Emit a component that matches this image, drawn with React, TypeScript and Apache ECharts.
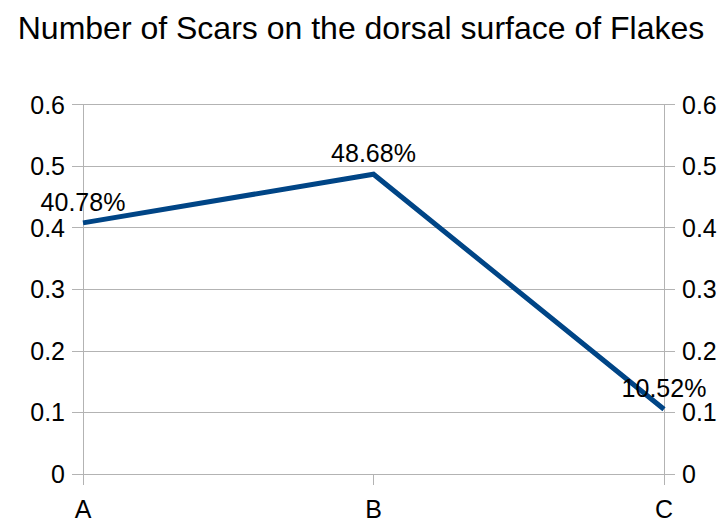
import React, { useEffect, useRef } from "react";
import * as echarts from "echarts";

const categories = ["A", "B", "C"];
const values = [0.4078, 0.4868, 0.1052];
const yTicks = [0, 0.1, 0.2, 0.3, 0.4, 0.5, 0.6];
const titleText = "Number of Scars on the dorsal surface of Flakes";

const FONT = "Liberation Sans, Arial, sans-serif";
const GRAY = "#b3b3b3";
const LABEL_SIZE = 25;

export default function App() {
  const ref = useRef<HTMLDivElement>(null);
  useEffect(() => {
    if (!ref.current) return;
    const chart = echarts.init(ref.current, null, { renderer: "svg" });
    const yAxisCommon = {
      type: "value",
      min: yTicks[0],
      max: yTicks[yTicks.length - 1],
      interval: 0.1,
      axisLine: { show: true, lineStyle: { color: GRAY, width: 1 } },
      axisTick: { show: true, length: 11, lineStyle: { color: GRAY } },
      splitLine: { show: true, lineStyle: { color: GRAY, width: 1 } },
      axisLabel: {
        color: "#000",
        fontSize: LABEL_SIZE,
        fontFamily: FONT,
        margin: 18,
        formatter: (v: number) => String(Math.round(v * 10) / 10),
      },
    };
    chart.setOption({
      animation: false,
      backgroundColor: "#fff",
      title: {
        text: titleText,
        left: "center",
        top: 7,
        textStyle: { fontSize: 32, fontWeight: "normal", color: "#000", fontFamily: FONT },
      },
      grid: { left: 83, right: 58, top: 104.5, bottom: 49, containLabel: false },
      xAxis: {
        type: "category",
        data: categories,
        boundaryGap: false,
        axisLine: { show: true, lineStyle: { color: GRAY } },
        axisTick: { show: true, length: 11, alignWithLabel: true, lineStyle: { color: GRAY } },
        axisLabel: { color: "#000", fontSize: LABEL_SIZE, fontFamily: FONT, margin: 22 },
        splitLine: { show: false },
      },
      yAxis: [
        { ...yAxisCommon, position: "left" },
        { ...yAxisCommon, position: "right", splitLine: { show: false } },
      ],
      series: [
        {
          type: "line",
          yAxisIndex: 0,
          data: values,
          showSymbol: true,
          symbol: "circle",
          symbolSize: 1,
          itemStyle: { color: "rgba(0,0,0,0)" },
          lineStyle: { color: "#004586", width: 5, join: "miter" },
          label: {
            show: true,
            position: "top",
            distance: 8,
            color: "#000",
            fontSize: LABEL_SIZE,
            fontFamily: FONT,
            formatter: (p: any) => (p.value * 100).toFixed(2) + "%",
          },
        },
      ],
    });
    return () => chart.dispose();
  }, []);
  return <div ref={ref} style={{ width: 722, height: 523, position: "absolute", left: 0, top: 0 }} />;
}
